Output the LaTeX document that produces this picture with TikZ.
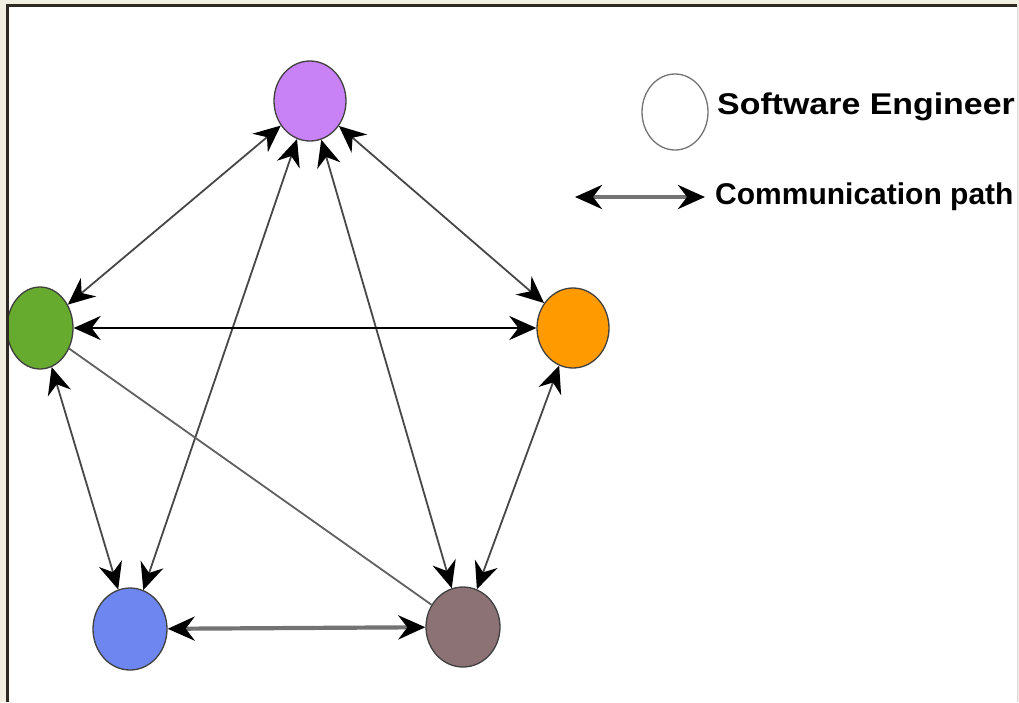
\documentclass[tikz,border=0pt]{standalone}
\usepackage{fontspec}
\setmainfont{Liberation Sans}
\usetikzlibrary{shapes.geometric,arrows.meta}
\definecolor{bgbeige}{HTML}{F1EFE2}
\definecolor{framedark}{HTML}{2E2A22}
\definecolor{cpurple}{HTML}{C882F5}
\definecolor{cgreen}{HTML}{66AA2E}
\definecolor{corange}{HTML}{FF9A00}
\definecolor{cblue}{HTML}{6E86F0}
\definecolor{cbrown}{HTML}{8C7175}
\tikzset{
  eng/.style={ellipse, inner sep=0pt, minimum width=72pt, minimum height=80pt, draw=black!75, line width=1.3pt},
  dblhead/.style={arrows={Stealth[length=27pt,width=24pt,inset=9pt,color=black]-Stealth[length=27pt,width=24pt,inset=9pt,color=black]}},
  conn/.style={dblhead, line width=1.8pt, draw=black!72},
  plainconn/.style={line width=1.8pt, draw=black!62},
  legtext/.style={font=\fontsize{30pt}{32pt}\selectfont\bfseries, anchor=west, inner sep=0pt}
}
\begin{document}
\begin{tikzpicture}[x=1pt,y=-1pt]
\useasboundingbox (0,0) rectangle (1019,702);
\fill[bgbeige] (0,0) rectangle (1019,702);
\fill[white] (7,5) rectangle (1017,702);
\draw[black!15, line width=1pt] (1017.5,5) -- (1017.5,702);
% nodes
\node[eng, fill=cpurple] (p) at (310,101) {};
\node[eng, fill=cgreen, minimum width=66pt, minimum height=82pt] (g) at (40,328) {};
\node[eng, fill=corange] (o) at (573,328) {};
\node[eng, fill=cblue, minimum width=74pt, minimum height=82pt] (b) at (130,629) {};
\node[eng, fill=cbrown, minimum width=74pt, minimum height=80pt] (r) at (463,627) {};
% connectors
\draw[conn] (p) -- (g);
\draw[conn] (p) -- (o);
\draw[conn] (p) -- (b);
\draw[conn] (p) -- (r);
\draw[conn, draw=black, line width=2.6pt] (g) -- (o);
\draw[conn] (g) -- (b);
\draw[plainconn] (g) -- (r);
\draw[conn] (o) -- (r);
\draw[conn, draw=black!55, line width=4.2pt] (b) -- (r);
% frame
\draw[framedark, line width=3pt] (7,702) -- (7,5) -- (1017,5);
% legend
\node[eng, fill=white, draw=black!55, minimum width=66pt, minimum height=76pt] (lc) at (675,112) {};
\node[legtext] (lt1) at (717,107) {\scalebox{1.13}[1]{Software Engineer}};
\coordinate (la) at (575,197);
\coordinate (lb) at (705,197);
\draw[conn, draw=black!55, line width=4.8pt] (la) -- (lb);
\node[legtext] (lt2) at (715,197) {Communication path};
\end{tikzpicture}
\end{document}
